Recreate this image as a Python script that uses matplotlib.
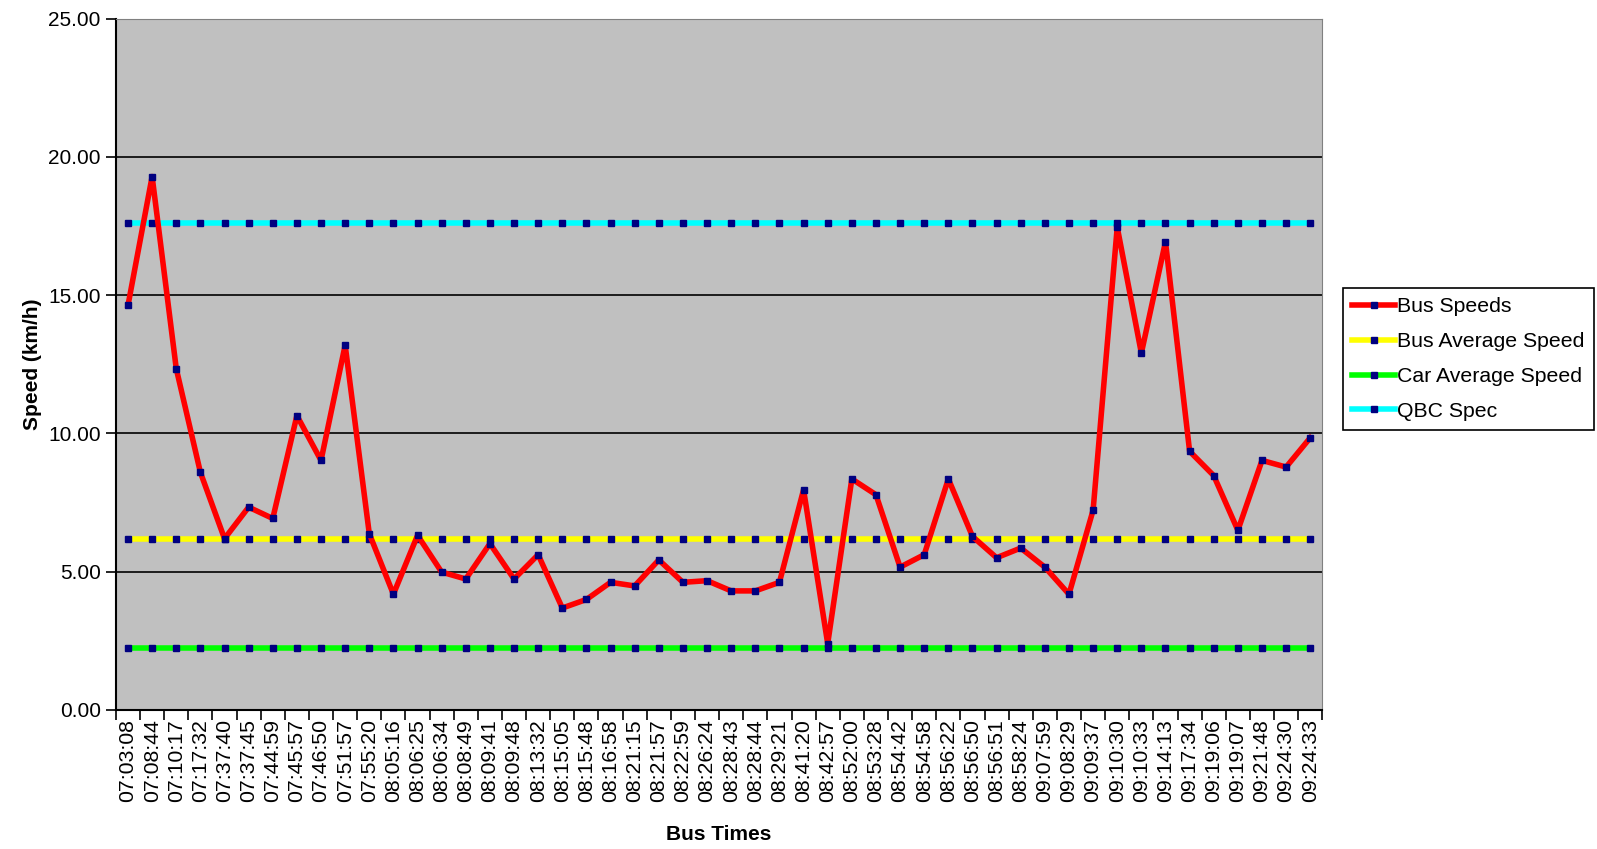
import numpy as np
import matplotlib.pyplot as plt

plt.rcParams['font.family'] = ['Liberation Sans', 'DejaVu Sans']

# bus passing times (category axis)
bus_times = ["07:03:08", "07:08:44", "07:10:17", "07:17:32", "07:37:40", "07:37:45",
             "07:44:59", "07:45:57", "07:46:50", "07:51:57", "07:55:20", "08:05:16",
             "08:06:25", "08:06:34", "08:08:49", "08:09:41", "08:09:48", "08:13:32",
             "08:15:05", "08:15:48", "08:16:58", "08:21:15", "08:21:57", "08:22:59",
             "08:26:24", "08:28:43", "08:28:44", "08:29:21", "08:41:20", "08:42:57",
             "08:52:00", "08:53:28", "08:54:42", "08:54:58", "08:56:22", "08:56:50",
             "08:56:51", "08:58:24", "09:07:59", "09:08:29", "09:09:37", "09:10:30",
             "09:10:33", "09:14:13", "09:17:34", "09:19:06", "09:19:07", "09:21:48",
             "09:24:30", "09:24:33"]

bus_speeds = [14.63, 19.29, 12.34, 8.59, 6.19, 7.33, 6.92, 10.64, 9.02, 13.19,
              6.37, 4.18, 6.31, 4.98, 4.73, 6.01, 4.73, 5.61, 3.68, 3.99,
              4.61, 4.48, 5.42, 4.61, 4.67, 4.30, 4.30, 4.61, 7.96, 2.39,
              8.35, 7.78, 5.16, 5.61, 8.35, 6.27, 5.50, 5.85, 5.16, 4.18,
              7.22, 17.46, 12.90, 16.93, 9.35, 8.47, 6.49, 9.02, 8.78, 9.84]

bus_avg_speed = 6.17
car_avg_speed = 2.24
qbc_spec = 17.62

x = np.arange(len(bus_times))
n = len(bus_times)

fig = plt.figure(figsize=(15.97, 8.49), dpi=100)
ax = fig.add_axes([0.0726, 0.164, 0.7554, 0.814])
ax.set_facecolor('#C0C0C0')

mk = dict(marker='s', markersize=5, markerfacecolor='#000080',
          markeredgecolor='#000080', linewidth=4)

ax.plot(x, bus_speeds, color='#FF0000', label='Bus Speeds', zorder=5, **mk)
ax.plot(x, [bus_avg_speed] * n, color='#FFFF00', label='Bus Average Speed', zorder=3, **mk)
ax.plot(x, [car_avg_speed] * n, color='#00FF00', label='Car Average Speed', zorder=3, **mk)
ax.plot(x, [qbc_spec] * n, color='#00FFFF', label='QBC Spec', zorder=3, **mk)

ax.set_xlim(-0.5, n - 0.5)
ax.set_ylim(0, 25)
ax.set_yticks(np.arange(0, 26, 5))
ax.set_yticklabels([f"{v:.2f}" for v in np.arange(0, 26, 5)], fontsize=15)
ax.yaxis.grid(True, color='black', linewidth=1.2)
ax.set_axisbelow(True)

ax.set_xticks(x)
ax.set_xticklabels(bus_times, rotation=90, fontsize=15.3)
ax.tick_params(axis='x', which='major', length=0, pad=7)
ax.set_xticks(np.arange(-0.5, n, 1), minor=True)
ax.tick_params(axis='x', which='minor', length=7, width=1.2, color='black')
ax.tick_params(axis='y', length=7, width=1.2, pad=4)

for s in ['top', 'right']:
    ax.spines[s].set_color('#808080')
for s in ['left', 'bottom']:
    ax.spines[s].set_color('black')
    ax.spines[s].set_linewidth(1.5)

ax.set_xlabel('Bus Times', fontsize=15, fontweight='bold', labelpad=16)
ax.set_ylabel('Speed (km/h)', fontsize=15, fontweight='bold', labelpad=4)

leg = ax.legend(loc='upper left', bbox_to_anchor=(1.017, 0.611), fontsize=15.3,
                frameon=True, fancybox=False, edgecolor='black', framealpha=1,
                handlelength=2.0, handletextpad=0.1, borderpad=0.45,
                labelspacing=0.75, borderaxespad=0)
leg.get_frame().set_linewidth(1.2)

fig.savefig('out.png', dpi=100)
